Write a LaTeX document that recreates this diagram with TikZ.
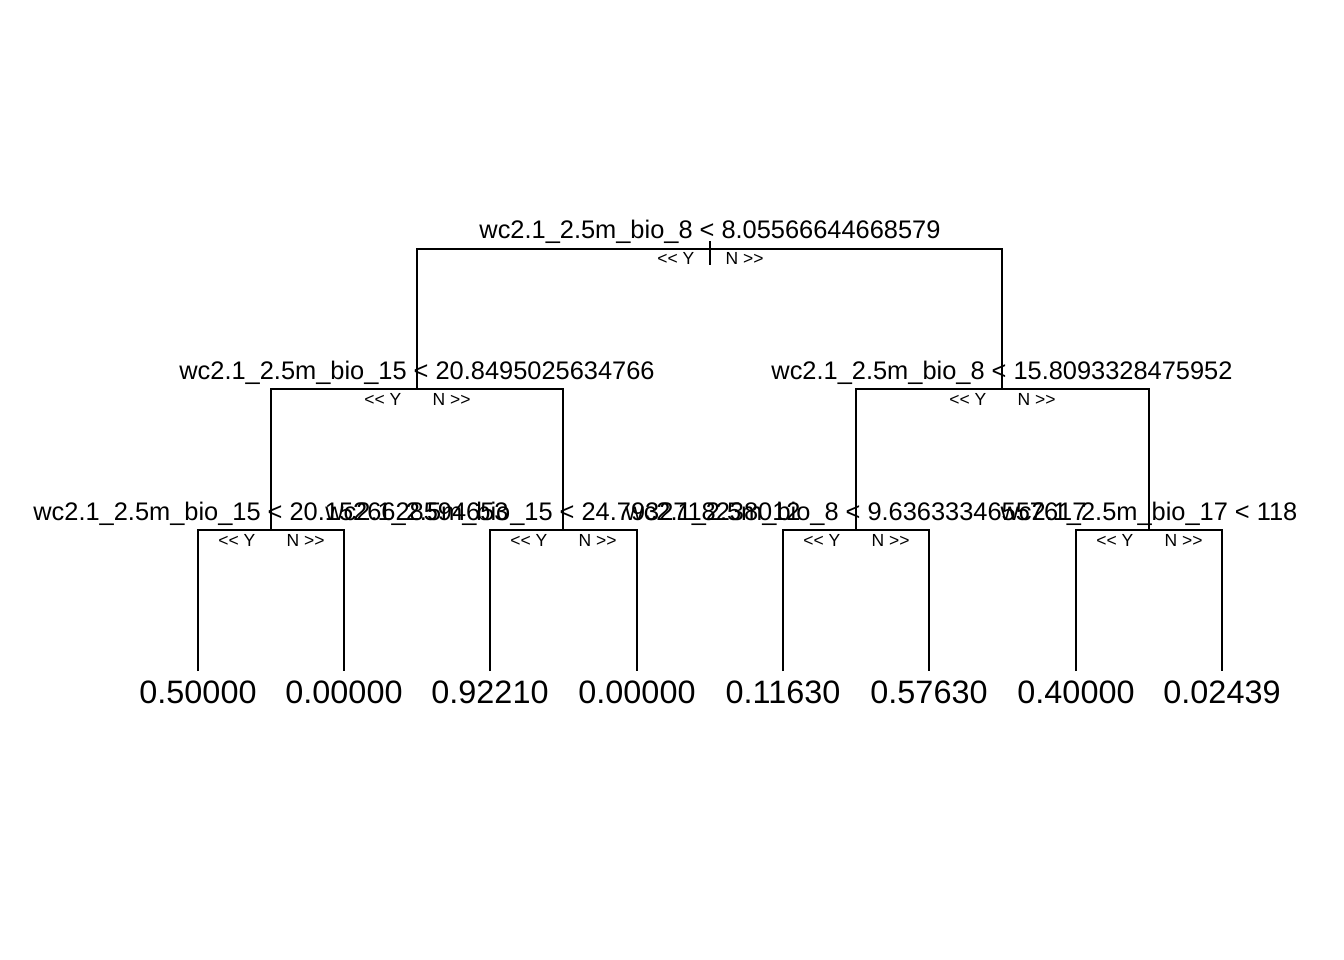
\documentclass[tikz,border=0pt]{standalone}
\usepackage{fontspec}
\setmainfont{Liberation Sans}
\usetikzlibrary{positioning}

\begin{document}
\begin{tikzpicture}[x=1pt,y=-1pt,line width=1.4pt]
\tikzstyle{every node}+=[inner sep=0pt]
\tikzstyle{split}=[font=\fontsize{25.4}{30}\selectfont]
\tikzstyle{yes}=[font=\fontsize{17.5}{20}\selectfont]
\tikzstyle{no}=[font=\fontsize{17.5}{20}\selectfont]
\tikzstyle{leaf}=[font=\fontsize{32.4}{38}\selectfont]
\useasboundingbox (0,0) rectangle (1344,960);
% split points
\coordinate (s1) at (710,249);
\coordinate (s2) at (417,389);
\coordinate (s3) at (1002,389);
\coordinate (s4) at (271,530);
\coordinate (s5) at (563,530);
\coordinate (s6) at (856,530);
\coordinate (s7) at (1149,530);
% leaves
\coordinate (l1) at (198,671);
\coordinate (l2) at (344,671);
\coordinate (l3) at (490,671);
\coordinate (l4) at (637,671);
\coordinate (l5) at (783,671);
\coordinate (l6) at (929,671);
\coordinate (l7) at (1076,671);
\coordinate (l8) at (1222,671);
% root tick
\coordinate (r0) at (710,241);
\coordinate (r1) at (710,265);
\draw (r0) -- (r1);
% branches
\draw (s2) |- (s1) -| (s3);
\draw (s4) |- (s2) -| (s5);
\draw (s6) |- (s3) -| (s7);
\draw (l1) |- (s4) -| (l2);
\draw (l3) |- (s5) -| (l4);
\draw (l5) |- (s6) -| (l6);
\draw (l7) |- (s7) -| (l8);
% split labels
\node[split,above=10pt of s1,anchor=base] (t1) {wc2.1\_2.5m\_bio\_8 < 8.05566644668579};
\node[split,above=10pt of s2,anchor=base] (t2) {wc2.1\_2.5m\_bio\_15 < 20.8495025634766};
\node[split,above=10pt of s3,anchor=base] (t3) {wc2.1\_2.5m\_bio\_8 < 15.8093328475952};
\node[split,above=10pt of s4,anchor=base] (t4) {wc2.1\_2.5m\_bio\_15 < 20.1526628594653};
\node[split,above=10pt of s5,anchor=base] (t5) {wc2.1\_2.5m\_bio\_15 < 24.7932718238012};
\node[split,above=10pt of s6,anchor=base] (t6) {wc2.1\_2.5m\_bio\_8 < 9.63633346557617};
\node[split,above=10pt of s7,anchor=base] (t7) {wc2.1\_2.5m\_bio\_17 < 118};
% yes / no labels
\foreach \s in {s1,s2,s3,s4,s5,s6,s7}{
  \node[yes,below left=16pt and 15pt of \s,anchor=base east] (y\s) {<\kern0pt< Y};
  \node[no,below right=16pt and 15pt of \s,anchor=base west] (n\s) {N >\kern0pt>};
}
% leaf values
\node[leaf,below=32pt of l1,anchor=base] (v1) {0.50000};
\node[leaf,below=32pt of l2,anchor=base] (v2) {0.00000};
\node[leaf,below=32pt of l3,anchor=base] (v3) {0.92210};
\node[leaf,below=32pt of l4,anchor=base] (v4) {0.00000};
\node[leaf,below=32pt of l5,anchor=base] (v5) {0.11630};
\node[leaf,below=32pt of l6,anchor=base] (v6) {0.57630};
\node[leaf,below=32pt of l7,anchor=base] (v7) {0.40000};
\node[leaf,below=32pt of l8,anchor=base] (v8) {0.02439};
\end{tikzpicture}
\end{document}
